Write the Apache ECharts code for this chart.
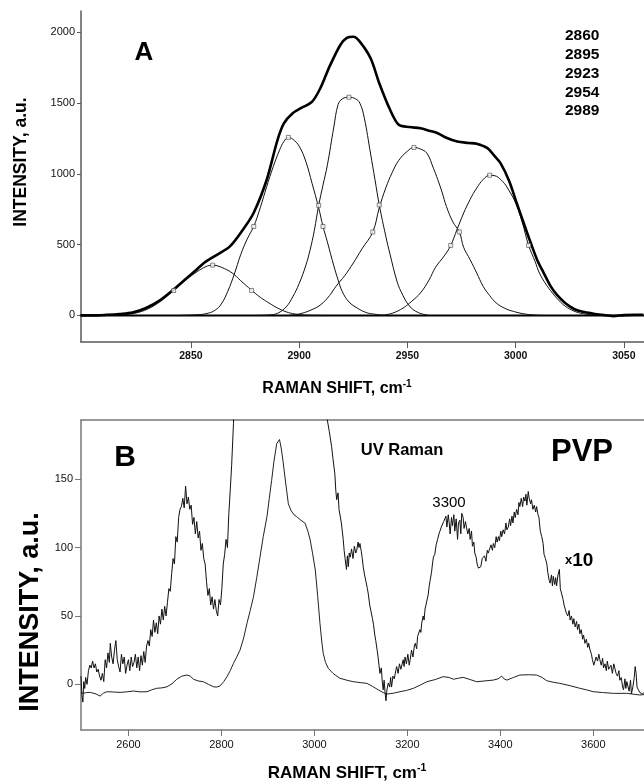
<!DOCTYPE html>
<html><head><meta charset="utf-8">
<script src="https://cdn.jsdelivr.net/npm/echarts@6/dist/echarts.min.js"></script>
<style>html,body{margin:0;padding:0;background:#fff}#c{width:644px;height:781px}</style>
</head><body><div id="c"></div>
<script>
// ---------- Panel A data ----------
const aTicksX = [2850, 2900, 2950, 3000, 3050];
const aTicksY = [0, 500, 1000, 1500, 2000];
const peakLabels = ['2860', '2895', '2923', '2954', '2989'];
const envelope = [[2799,0],[2805,0],[2811,4],[2817,10],[2823,20],[2829,50],[2836,110],[2843,195],[2848,262],[2852,315],[2856,370],[2862,428],[2868,487],[2874,605],[2879,725],[2885,958],[2890,1240],[2893,1358],[2897,1428],[2901,1465],[2906,1510],[2910,1612],[2914,1757],[2919,1910],[2922,1960],[2925,1968],[2928,1934],[2933,1816],[2937,1640],[2942,1452],[2946,1346],[2951,1330],[2956,1322],[2960,1305],[2964,1287],[2968,1255],[2973,1228],[2978,1218],[2982,1212],[2987,1181],[2990,1130],[2993,1075],[2997,950],[3000,816],[3004,640],[3007,511],[3010,390],[3013,299],[3016,210],[3019,146],[3023,85],[3027,45],[3031,25],[3036,12],[3040,4],[3045,-5],[3050,2],[3055,4],[3059,4]];
const band2860 = [[2812,0],[2818,4],[2824,15],[2830,45],[2836,100],[2842,176],[2848,255],[2853,310],[2857,345],[2860,355],[2864,340],[2869,300],[2873,245],[2878,178],[2882,128],[2886,88],[2890,52],[2894,25],[2898,10],[2903,2],[2910,0]];
const band2895 = [[2845,0],[2852,4],[2857,12],[2861,35],[2864,80],[2867,170],[2870,290],[2873,430],[2876,540],[2879,628],[2882,760],[2885,910],[2888,1050],[2891,1170],[2893,1230],[2895,1257],[2897,1245],[2900,1195],[2903,1090],[2906,930],[2909,760],[2911,628],[2913,520],[2916,350],[2918,250],[2920,165],[2923,95],[2927,50],[2931,20],[2935,8],[2940,0]];
const band2923 = [[2880,0],[2886,3],[2890,15],[2894,60],[2897,130],[2900,225],[2903,350],[2905,460],[2907,600],[2909,777],[2911,920],[2913,1060],[2916,1330],[2918,1490],[2920,1530],[2923,1541],[2926,1530],[2928,1500],[2930,1400],[2933,1140],[2935,960],[2937,780],[2940,560],[2942,430],[2945,250],[2947,170],[2951,65],[2955,20],[2960,0]];
const band2954 = [[2895,0],[2900,10],[2905,35],[2910,76],[2914,140],[2917,205],[2921,280],[2925,370],[2929,470],[2934,589],[2937,760],[2940,900],[2943,1010],[2946,1095],[2950,1160],[2953,1186],[2956,1175],[2959,1146],[2962,1040],[2964,960],[2966,870],[2968,770],[2971,660],[2974,589],[2976,480],[2979,393],[2982,300],[2985,205],[2988,140],[2991,88],[2995,50],[2999,28],[3005,8],[3012,0]];
const band2989 = [[2938,0],[2943,15],[2948,52],[2952,100],[2956,158],[2960,250],[2963,340],[2967,420],[2970,494],[2973,610],[2976,723],[2979,820],[2982,899],[2985,960],[2988,990],[2990,988],[2994,946],[2997,880],[3000,793],[3003,660],[3006,494],[3009,380],[3011,299],[3014,220],[3017,158],[3020,105],[3023,64],[3027,30],[3031,12],[3037,0]];
const bandMarkers = [[2842,176],[2860,355],[2878,176],[2879,628],[2895,1257],[2911,628],[2909,777],[2923,1541],[2937,780],[2934,589],[2953,1186],[2974,589],[2970,494],[2988,990],[3006,494]];
const zeroLine = [[2799,0],[3059.3,0]];

// ---------- Panel B data ----------
const bTicksX = [2600, 2800, 3000, 3200, 3400, 3600];
const bTicksY = [0, 50, 100, 150];
const uvRaman = [[2498,-6],[2503,-6.6],[2510,-6],[2518,-5.9],[2530,-7],[2539,-8.6],[2546,-6.5],[2554,-5.4],[2568,-5.6],[2582,-5.9],[2596,-5.5],[2611,-4.9],[2625,-5.5],[2640,-5.4],[2650,-4],[2661,-2.9],[2672,-2.6],[2683,-1.8],[2694,0.5],[2704,3.7],[2715,6],[2726,6.8],[2733,6],[2740,3.7],[2750,2.5],[2761,1.9],[2772,0],[2783,-1.8],[2790,-2],[2797,-1.2],[2805,2],[2812,5.6],[2819,10],[2826,15.4],[2833,20],[2840,25],[2848,34],[2855,44.6],[2862,54],[2869,64],[2876,78],[2883,93],[2890,108],[2898,122.6],[2903,136],[2908,149],[2913,163],[2919,176],[2925,179],[2929,172],[2933,162],[2938,148],[2944,132],[2950,127],[2956,124],[2962,122.6],[2971,120],[2980,117.8],[2986,112],[2991,105.6],[2996,96],[3002,83.6],[3007,65],[3012,44.6],[3016,31],[3019,22.7],[3024,16],[3030,11.7],[3040,8],[3055,4.4],[3070,3],[3084,1.9],[3100,1.2],[3113,0.7],[3125,-1.5],[3138,-4.2],[3148,-6],[3156,-7.1],[3170,-6.5],[3184,-5.4],[3198,-4.5],[3213,-2.9],[3228,-0.5],[3242,1.9],[3260,3.5],[3277,5.6],[3290,5],[3299,3.7],[3310,4.5],[3320,5.1],[3335,3.5],[3349,1.9],[3367,2.5],[3385,3.1],[3395,4],[3403,6],[3408,4],[3414,3.1],[3428,5],[3442,6.8],[3460,7],[3478,6.8],[3490,5],[3500,2.6],[3514,1.5],[3528,0.7],[3550,-1],[3571,-2.9],[3585,-4],[3600,-5.4],[3620,-6],[3643,-6.6],[3672,-6.6],[3700,-7.8],[3709,-7.5]];
const uvRamanX10 = [[2498,6],[2500,-8],[2502,-13],[2504,2],[2506,-3],[2508,5],[2511,0],[2514,10],[2517,14],[2520,12],[2523,17],[2526,12],[2529,15],[2532,9],[2535,11],[2538,6],[2541,3],[2544,8],[2547,2],[2550,18],[2553,12],[2556,23],[2559,16],[2561,30],[2564,20],[2567,15],[2570,25],[2573,32],[2576,18],[2579,13],[2582,9],[2585,22],[2588,15],[2591,20],[2594,8],[2597,14],[2600,18],[2603,10],[2606,20],[2609,13],[2612,16],[2615,22],[2618,12],[2621,20],[2624,10],[2627,21],[2630,14],[2633,24],[2636,16],[2639,28],[2642,32],[2645,28],[2648,40],[2651,35],[2654,47],[2657,38],[2660,45],[2663,37],[2666,50],[2669,44],[2672,55],[2675,47],[2678,57],[2681,50],[2684,60],[2687,70],[2690,68],[2693,81],[2696,92],[2699,88],[2702,108],[2705,104],[2708,122],[2711,128],[2714,130],[2717,136],[2720,129],[2723,145],[2726,132],[2729,137],[2732,128],[2735,131],[2738,117],[2741,122],[2744,110],[2747,119],[2750,107],[2753,112],[2756,98],[2759,103],[2762,92],[2765,88],[2768,75],[2771,65],[2774,70],[2777,58],[2780,64],[2783,55],[2786,62],[2789,54],[2792,50],[2795,62],[2798,58],[2801,70],[2804,88],[2807,95],[2810,106],[2813,100],[2816,125],[2819,142],[2822,160],[2826,191],[2830,230],[2840,320],[2860,650],[2890,1300],[2925,1790],[2960,1230],[3000,840],[3015,380],[3022,250],[3027,195],[3032,185],[3037,174],[3040,165],[3044,154],[3046,142],[3048,135],[3051,140],[3053,128],[3055,127],[3058,118],[3060,112],[3062,106],[3064,98],[3066,92],[3069,84],[3071,94],[3073,86],[3075,96],[3077,93],[3080,99],[3083,92],[3086,101],[3089,96],[3091,98],[3094,104],[3096,100],[3098,103],[3101,97],[3103,92],[3105,86],[3108,80],[3111,75],[3114,70],[3116,66],[3119,58],[3122,53],[3125,48],[3127,44],[3130,36],[3132,32],[3135,25],[3137,20],[3139,14],[3141,8],[3144,12],[3146,2],[3148,-4],[3150,3],[3152,-6],[3154,-12],[3156,-4],[3159,1],[3162,-2],[3164,5],[3166,-2],[3169,6],[3172,4],[3175,10],[3177,13],[3180,8],[3183,15],[3186,11],[3188,10],[3191,18],[3193,13],[3195,20],[3198,15],[3201,22],[3204,14],[3206,18],[3209,25],[3212,20],[3215,28],[3217,30],[3220,26],[3222,35],[3224,34],[3227,40],[3229,38],[3231,45],[3234,50],[3236,47],[3238,55],[3240,58],[3242,59],[3245,66],[3247,72],[3249,76],[3252,82],[3254,88],[3256,93],[3259,95],[3262,102],[3265,106],[3268,110],[3270,112],[3273,115],[3276,114],[3278,119],[3281,118],[3283,123],[3285,115],[3288,124],[3290,118],[3292,110],[3295,122],[3297,116],[3300,124],[3302,112],[3305,121],[3308,106],[3310,118],[3313,120],[3315,110],[3317,125],[3320,122],[3322,114],[3325,119],[3327,115],[3330,110],[3333,114],[3335,106],[3338,112],[3340,101],[3343,104],[3345,96],[3348,93],[3350,88],[3353,85],[3356,84],[3358,86],[3361,92],[3363,91],[3366,94],[3369,90],[3372,98],[3374,96],[3377,99],[3380,102],[3383,98],[3385,103],[3388,100],[3391,108],[3393,104],[3396,108],[3398,105],[3401,112],[3403,108],[3406,113],[3409,110],[3412,118],[3414,113],[3417,115],[3420,121],[3422,116],[3425,123],[3427,118],[3430,126],[3432,122],[3435,128],[3438,124],[3440,133],[3442,130],[3445,136],[3448,130],[3450,137],[3453,134],[3455,139],[3457,131],[3460,141],[3462,136],[3465,132],[3467,135],[3470,128],[3473,131],[3476,126],[3478,130],[3481,124],[3483,122],[3486,112],[3489,108],[3492,103],[3494,95],[3497,92],[3500,88],[3502,82],[3505,76],[3507,74],[3510,80],[3512,72],[3514,79],[3517,73],[3519,78],[3521,72],[3524,80],[3527,84],[3529,70],[3532,71],[3535,62],[3537,58],[3539,57],[3542,52],[3545,50],[3548,54],[3550,47],[3553,50],[3556,44],[3558,48],[3561,42],[3564,46],[3566,40],[3569,44],[3571,37],[3574,40],[3577,33],[3579,36],[3582,30],[3585,33],[3588,27],[3590,30],[3593,25],[3596,22],[3598,18],[3601,14],[3604,13],[3606,20],[3609,17],[3612,22],[3614,18],[3617,14],[3620,19],[3622,12],[3625,15],[3628,10],[3630,17],[3633,11],[3636,10],[3638,14],[3641,8],[3644,15],[3646,16],[3649,8],[3652,6],[3655,10],[3657,3],[3660,5],[3663,-2],[3665,-4],[3668,4],[3670,-3],[3672,2],[3675,1],[3677,-5],[3680,3],[3682,-7],[3685,-2],[3688,5],[3690,13],[3692,8],[3694,-2],[3697,-4],[3700,-6],[3703,-5],[3706,-7],[3709,-6]];

// ---------- chart ----------
const SANS = "'Liberation Sans', Arial, Helvetica, sans-serif";
const AX = '#5a5a5a';
const plain = v => String(v);

function lineSeries(data, xi, width, smooth, color) {
  return { type: 'line', xAxisIndex: xi, yAxisIndex: xi, data: data, showSymbol: false,
    smooth: smooth, clip: true, silent: true, animation: false,
    lineStyle: { color: color || '#000', width: width } };
}

const chart = echarts.init(document.getElementById('c'), null, { renderer: 'canvas' });
const peakGraphics = peakLabels.map((t, i) => ({
  type: 'text', x: 565, y: 36 + i * 18.8,
  style: { text: t, fontFamily: SANS, fontWeight: 'bold', fontSize: 15.5, fill: '#000',
    align: 'left', verticalAlign: 'middle' }
}));

chart.setOption({
  animation: false,
  backgroundColor: '#fff',
  grid: [
    { left: 81, top: 11, width: 563, height: 331 },
    { left: 81, top: 420, width: 563, height: 310 }
  ],
  xAxis: [
    { type: 'value', gridIndex: 0, min: 2799.2, max: 3059.3,
      axisLine: { show: true, onZero: false, lineStyle: { color: AX, width: 1.5 } },
      axisTick: { show: true, length: 6, customValues: aTicksX, lineStyle: { color: AX, width: 1 } },
      axisLabel: { customValues: aTicksX, formatter: plain, fontFamily: SANS, fontWeight: 'bold', fontSize: 10.5, color: '#111', margin: 9 },
      splitLine: { show: false } },
    { type: 'value', gridIndex: 1, min: 2498, max: 3709,
      axisLine: { show: true, onZero: false, lineStyle: { color: '#777', width: 1.5 } },
      axisTick: { show: true, length: 6, customValues: bTicksX, lineStyle: { color: '#777', width: 1 } },
      axisLabel: { customValues: bTicksX, formatter: plain, fontFamily: SANS, fontSize: 11, color: '#111', margin: 9 },
      splitLine: { show: false } },
    { type: 'value', gridIndex: 1, position: 'top', min: 2498, max: 3709,
      axisLine: { show: true, onZero: false, lineStyle: { color: '#777', width: 1.5 } },
      axisTick: { show: false }, axisLabel: { show: false }, splitLine: { show: false } }
  ],
  yAxis: [
    { type: 'value', gridIndex: 0, min: -188, max: 2150,
      axisLine: { show: true, onZero: false, lineStyle: { color: AX, width: 1.5 } },
      axisTick: { show: true, length: 4, customValues: aTicksY, lineStyle: { color: AX, width: 1 } },
      axisLabel: { customValues: aTicksY, formatter: plain, fontFamily: SANS, fontSize: 11, color: '#111', margin: 6 },
      splitLine: { show: false } },
    { type: 'value', gridIndex: 1, min: -33.4, max: 193.3,
      axisLine: { show: true, onZero: false, lineStyle: { color: '#777', width: 1.5 } },
      axisTick: { show: true, length: 6, customValues: bTicksY, lineStyle: { color: '#777', width: 1 } },
      axisLabel: { customValues: bTicksY, formatter: plain, fontFamily: SANS, fontSize: 11, color: '#111', margin: 8 },
      splitLine: { show: false } }
  ],
  series: [
    lineSeries(zeroLine, 0, 2, false),
    lineSeries(band2860, 0, 1, 0.4, '#111'),
    lineSeries(band2895, 0, 1, 0.4, '#111'),
    lineSeries(band2923, 0, 1, 0.4, '#111'),
    lineSeries(band2954, 0, 1, 0.4, '#111'),
    lineSeries(band2989, 0, 1, 0.4, '#111'),
    lineSeries(envelope, 0, 2.6, 0.3, '#000'),
    { type: 'scatter', xAxisIndex: 0, yAxisIndex: 0, data: bandMarkers, symbol: 'rect', symbolSize: 4,
      silent: true, z: 5, itemStyle: { color: '#fff', borderColor: '#444', borderWidth: 0.8 } },
    lineSeries(uvRaman, 1, 1, false, '#222'),
    lineSeries(uvRamanX10, 1, 1, false, '#111')
  ],
  graphic: [
    { type: 'text', x: 144, y: 53, style: { text: 'A', fontFamily: SANS, fontWeight: 'bold', fontSize: 26, fill: '#000', align: 'center', verticalAlign: 'middle' } },
    { type: 'text', x: 21, y: 162, rotation: Math.PI / 2, style: { text: 'INTENSITY, a.u.', fontFamily: SANS, fontWeight: 'bold', fontSize: 17.5, fill: '#000', align: 'center', verticalAlign: 'middle' } },
    { type: 'text', x: 337, y: 389, style: { text: '{a|RAMAN SHIFT, cm}{s|-1}', align: 'center', verticalAlign: 'middle',
      rich: { a: { fontFamily: SANS, fontWeight: 'bold', fontSize: 16, fill: '#000' }, s: { fontFamily: SANS, fontWeight: 'bold', fontSize: 10, fill: '#000', verticalAlign: 'bottom', padding: [0, 0, 9, 0] } } } },
    ...peakGraphics,
    { type: 'text', x: 125, y: 458, style: { text: 'B', fontFamily: SANS, fontWeight: 'bold', fontSize: 30, fill: '#000', align: 'center', verticalAlign: 'middle' } },
    { type: 'text', x: 402, y: 450, style: { text: 'UV Raman', fontFamily: SANS, fontWeight: 'bold', fontSize: 16.5, fill: '#000', align: 'center', verticalAlign: 'middle' } },
    { type: 'text', x: 582, y: 452, style: { text: 'PVP', fontFamily: SANS, fontWeight: 'bold', fontSize: 31, fill: '#000', align: 'center', verticalAlign: 'middle' } },
    { type: 'text', x: 449, y: 503, style: { text: '3300', fontFamily: SANS, fontSize: 15, fill: '#000', align: 'center', verticalAlign: 'middle' } },
    { type: 'text', x: 565, y: 570, style: { text: '{x|x}{n|10}', align: 'left', verticalAlign: 'bottom',
      rich: { x: { fontFamily: SANS, fontWeight: 'bold', fontSize: 13, fill: '#000' }, n: { fontFamily: SANS, fontWeight: 'bold', fontSize: 19, fill: '#000' } } } },
    { type: 'text', x: 31, y: 612, rotation: Math.PI / 2, style: { text: 'INTENSITY, a.u.', fontFamily: SANS, fontWeight: 'bold', fontSize: 27, fill: '#000', align: 'center', verticalAlign: 'middle' } },
    { type: 'text', x: 347, y: 773, style: { text: '{a|RAMAN SHIFT, cm}{s|-1}', align: 'center', verticalAlign: 'middle',
      rich: { a: { fontFamily: SANS, fontWeight: 'bold', fontSize: 17, fill: '#000' }, s: { fontFamily: SANS, fontWeight: 'bold', fontSize: 10.5, fill: '#000', verticalAlign: 'bottom', padding: [0, 0, 10, 0] } } } }
  ]
});
</script>
</body></html>
